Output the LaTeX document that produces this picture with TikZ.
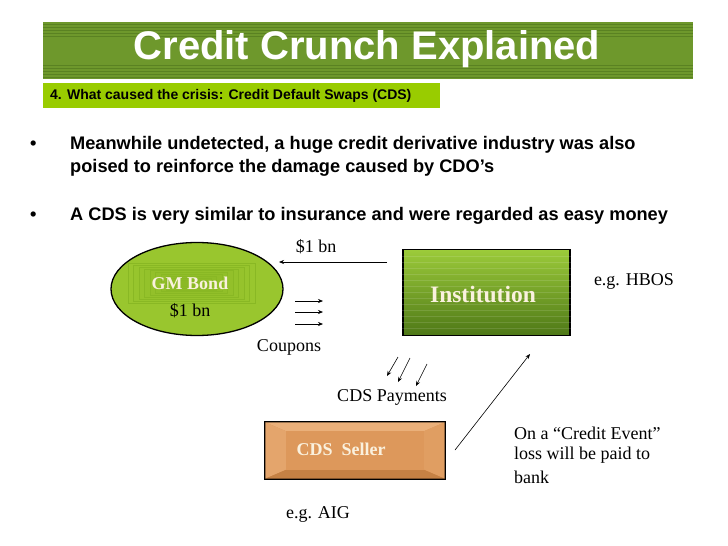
\documentclass[tikz,border=0pt]{standalone}
\usepackage{fontspec}
\setmainfont{Liberation Serif}
\newfontfamily\arialf{Liberation Sans}
\usetikzlibrary{shapes.geometric,arrows.meta,calc}
\definecolor{titlegreen}{HTML}{6E982C}
\definecolor{stripegreen}{HTML}{5A8222}
\definecolor{subgreen}{HTML}{99CC00}
\definecolor{boxgreenA}{HTML}{9CCB3A}
\definecolor{boxgreenB}{HTML}{4E7817}
\definecolor{ellgreen}{HTML}{99C62E}
\definecolor{ellinner}{HTML}{7FAE1E}
\definecolor{orangeA}{HTML}{EAB07A}
\definecolor{orangeB}{HTML}{D68C4A}
\definecolor{cream}{HTML}{FAF1DE}
\tikzset{
  lbl/.style={font=\fontsize{18}{20}\selectfont, inner sep=0pt},
  arr/.style={-{Stealth[length=5pt,width=4pt]}, line width=0.6pt},
  bullettext/.style={font=\arialf\bfseries\fontsize{18.2}{23}\selectfont, anchor=base west, inner sep=0pt},
}
\begin{document}
\begin{tikzpicture}[x=1pt,y=-1pt]
\useasboundingbox (0,0) rectangle (728,546);
\fill[white] (0,0) rectangle (728,546);
% title bar
\fill[titlegreen] (43,22) rectangle (693,79);
\foreach \yy in {24,27,30,33,36,65,68,71,74,77}
  \draw[stripegreen, line width=0.7pt] (43,\yy) -- (693,\yy);
\node[font=\arialf\bfseries\fontsize{40}{42}\selectfont, text=white, inner sep=0pt] (title) at (367,49) {Credit Crunch Explained};
% subtitle bar
\fill[subgreen] (43,83) rectangle (440,108);
\node[font=\arialf\bfseries\fontsize{14}{16}\selectfont, anchor=west, inner sep=0pt] (sub) at (50,96) {4. What caused the crisis: Credit Default Swaps (CDS)};
% bullets
\node[bullettext] (b1) at (30,149) {\textbullet};
\node[bullettext] (t1) at (70,149) {Meanwhile undetected, a huge credit derivative industry was also};
\node[bullettext] (t1b) at (70,172) {poised to reinforce the damage caused by CDO’s};
\node[bullettext] (b2) at (30,220) {\textbullet};
\node[bullettext] (t2) at (70,220) {A CDS is very similar to insurance and were regarded as easy money};
% ellipse GM Bond
\node[ellipse, draw=black, line width=1.3pt, fill=ellgreen, minimum width=172pt, minimum height=93pt] (gm) at (197,289) {};
\foreach \i in {0,...,9}{
  \pgfmathsetmacro{\mix}{100-\i*6}
  \fill[ellgreen!\mix!ellinner] ($(gm.center)+(-69+\i*5.5,-26+\i*1.9)$) rectangle ($(gm.center)+(58-\i*5.5,14-\i*1.9)$);
  \draw[ellgreen!40!ellinner, line width=0.3pt] ($(gm.center)+(-69+\i*5.5,-26+\i*1.9)$) rectangle ($(gm.center)+(58-\i*5.5,14-\i*1.9)$);
}
\node[font=\bfseries\fontsize{18}{20}\selectfont, text=cream, inner sep=0pt] (gmt) at (190,283) {GM Bond};
\node[lbl] (gmv) at (190,311) {\$1 bn};
% institution
\node[draw=black, line width=1.3pt, top color=boxgreenA, bottom color=boxgreenB, minimum width=167pt, minimum height=86pt, inner sep=0pt] (inst) at (486.5,292.5) {};
\foreach \yy in {256,262,268,274,280,286,292,298,304,310,316,322,328}
  \draw[white, opacity=0.12, line width=0.6pt] (inst.west |- 0,\yy) -- (inst.east |- 0,\yy);
\node[font=\bfseries\fontsize{23.5}{25}\selectfont, text=cream, inner sep=0pt] (instt) at (483,294) {Institution};
% $1bn arrow
\coordinate (a1s) at (387,262);
\coordinate (a1e) at (279,262);
\draw[arr] (a1s) -- (a1e);
\node[lbl] (bn) at (316,247) {\$1 bn};
% coupons
\foreach \yy [count=\k] in {301,312,324}{
  \coordinate (cs\k) at (295,\yy);
  \coordinate (ce\k) at (323,\yy);
  \draw[arr] (cs\k) -- (ce\k);
}
\node[lbl] (coup) at (289,347) {Coupons};
% CDS payments arrows
\coordinate (p1s) at (398,357); \coordinate (p1e) at (387,376);
\coordinate (p2s) at (410,358); \coordinate (p2e) at (398,382);
\coordinate (p3s) at (427,364); \coordinate (p3e) at (416,386);
\draw[arr] (p1s) -- (p1e);
\draw[arr] (p2s) -- (p2e);
\draw[arr] (p3s) -- (p3e);
\node[lbl] (cdsp) at (392,397) {CDS Payments};
% CDS seller
\node[draw=black, line width=1.3pt, fill=orangeB, minimum width=180pt, minimum height=57pt, inner sep=0pt] (seller) at (355,450.5) {};
\fill[orangeA] ($(seller.north west)+(1,1)$) -- ($(seller.north east)+(-1,1)$) -- ($(seller.north east)+(-22,10)$) -- ($(seller.north west)+(22,10)$) -- cycle;
\fill[orangeA!70!orangeB] ($(seller.north west)+(1,1)$) -- ($(seller.north west)+(22,10)$) -- ($(seller.south west)+(22,-10)$) -- ($(seller.south west)+(1,-1)$) -- cycle;
\fill[orangeA!50!orangeB] ($(seller.north east)+(-1,1)$) -- ($(seller.north east)+(-22,10)$) -- ($(seller.south east)+(-22,-10)$) -- ($(seller.south east)+(-1,-1)$) -- cycle;
\fill[orangeB!92!black] ($(seller.south west)+(1,-1)$) -- ($(seller.south west)+(22,-10)$) -- ($(seller.south east)+(-22,-10)$) -- ($(seller.south east)+(-1,-1)$) -- cycle;
\fill[orangeB!65!orangeA] ($(seller.north west)+(22,10)$) rectangle ($(seller.south east)+(-22,-10)$);
\draw[black, line width=1.3pt] (seller.north west) rectangle (seller.south east);
\node[font=\bfseries\fontsize{18}{20}\selectfont, text=cream, inner sep=0pt] (sellert) at (341,449) {CDS\ \ Seller};
\node[lbl] (aig) at (318,514) {e.g. AIG};
% credit event arrow
\coordinate (ce0) at (455,450);
\coordinate (cee) at (530,354);
\draw[arr] (ce0) -- (cee);
\node[lbl] (hbos) at (634,281) {e.g. HBOS};
\node[lbl, anchor=west] (ev1) at (514,433) {On a “Credit Event”};
\node[lbl, anchor=west] (ev2) at (514,455) {loss will be paid to};
\node[lbl, anchor=west] (ev3) at (514,477) {bank};
\end{tikzpicture}
\end{document}
